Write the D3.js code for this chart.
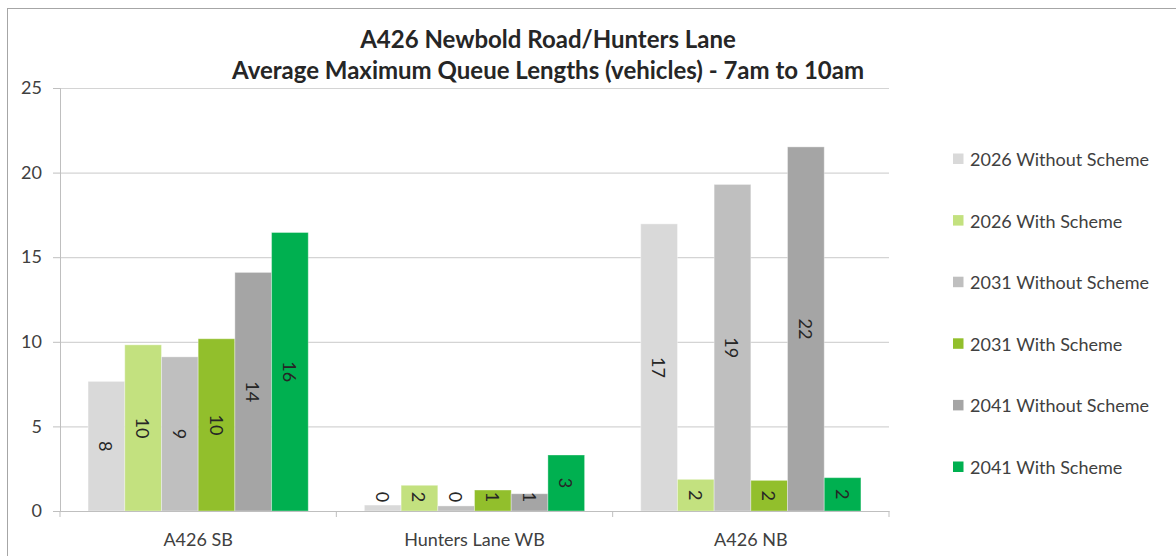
<!DOCTYPE html>
<html>
<head>
<meta charset="utf-8">
<script src="https://cdn.jsdelivr.net/npm/d3@7"></script>
<style>
  html, body { margin: 0; padding: 0; background: #ffffff; }
  svg { display: block; font-family: Lato, "Open Sans", sans-serif; }
</style>
</head>
<body>
<svg id="chart" width="1176" height="556"></svg>
<script>
// Approaches on the A426 Newbold Road / Hunters Lane junction
const categories = ["A426 SB", "Hunters Lane WB", "A426 NB"];

// Scenario names, in legend / bar order
const seriesNames = [
  "2026 Without Scheme",
  "2026 With Scheme",
  "2031 Without Scheme",
  "2031 With Scheme",
  "2041 Without Scheme",
  "2041 With Scheme"
];

// Average maximum queue length (vehicles), one value per approach
const s2026Without = [7.66, 0.35, 16.97];
const s2026With    = [9.82, 1.52, 1.87];
const s2031Without = [9.11, 0.30, 19.30];
const s2031With    = [10.18, 1.24, 1.81];
const s2041Without = [14.10, 1.02, 21.52];
const s2041With    = [16.46, 3.31, 1.97];

const seriesValues = [s2026Without, s2026With, s2031Without, s2031With, s2041Without, s2041With];
const seriesColors = ["#d9d9d9", "#c3e17f", "#bfbfbf", "#92bf2c", "#a5a5a5", "#00b050"];

const yTicks = [0, 5, 10, 15, 20, 25];
const titleLines = [
  "A426 Newbold Road/Hunters Lane",
  "Average Maximum Queue Lengths (vehicles) - 7am to 10am"
];

const svg = d3.select("#chart");

// Outer chart frame
svg.append("rect")
  .attr("x", 7.5).attr("y", 8.5)
  .attr("width", 1176).attr("height", 556)
  .attr("fill", "#ffffff")
  .attr("stroke", "#a6a6a6").attr("stroke-width", 1);

const plot = { left: 60, right: 889, top: 88, bottom: 511 };

const x0 = d3.scaleBand()
  .domain(categories)
  .range([plot.left, plot.right])
  .paddingInner(0).paddingOuter(0);

const x1 = d3.scaleBand()
  .domain(seriesNames)
  .range([0, x0.bandwidth()])
  .paddingInner(0).paddingOuter(0.765);

const y = d3.scaleLinear().domain([0, 25]).range([plot.bottom, plot.top]);

// Horizontal gridlines
svg.append("g")
  .attr("transform", `translate(${plot.left},0)`)
  .call(d3.axisLeft(y).tickValues(yTicks).tickSize(-(plot.right - plot.left)).tickFormat(""))
  .call(g => g.select(".domain").remove())
  .call(g => g.selectAll(".tick line").attr("stroke", "#d4d4d4").attr("stroke-width", 1.2));

// Y axis with tick labels
const yAxis = svg.append("g")
  .attr("transform", `translate(${plot.left},0)`)
  .call(d3.axisLeft(y).tickValues(yTicks).tickSize(7).tickPadding(11).tickFormat(d3.format("d")));
yAxis.select(".domain").attr("stroke", "#bfbfbf");
yAxis.selectAll(".tick line").attr("stroke", "#bfbfbf");
yAxis.selectAll(".tick text")
  .attr("fill", "#404040")
  .style("font-family", "Lato, 'Open Sans', sans-serif")
  .style("font-size", "18px");

// Bars
const rows = categories.map((c, i) => ({
  category: c,
  bars: seriesNames.map((s, j) => ({ series: s, value: seriesValues[j][i], color: seriesColors[j] }))
}));

const groups = svg.append("g").selectAll("g")
  .data(rows)
  .join("g")
  .attr("transform", d => `translate(${x0(d.category)},0)`);

groups.selectAll("rect")
  .data(d => d.bars)
  .join("rect")
  .attr("x", d => x1(d.series))
  .attr("y", d => y(d.value))
  .attr("width", x1.bandwidth())
  .attr("height", d => y(0) - y(d.value))
  .attr("fill", d => d.color)
  .attr("stroke", "rgba(255,255,255,0.35)")
  .attr("stroke-width", 1);

// Value labels, rotated and centred in each bar
const fmt = d3.format(".0f");
groups.selectAll("text.val")
  .data(d => d.bars)
  .join("text")
  .attr("class", "val")
  .attr("transform", d => {
    const cx = x1(d.series) + x1.bandwidth() / 2;
    const cy = Math.min((y(d.value) + y(0)) / 2, y(0) - 14);
    return `translate(${cx},${cy}) rotate(90)`;
  })
  .attr("text-anchor", "middle")
  .attr("dominant-baseline", "central")
  .attr("fill", "#262626")
  .style("font-size", "18px")
  .text(d => fmt(d.value));

// Category axis
const xAxis = svg.append("g")
  .attr("transform", `translate(0,${plot.bottom})`)
  .call(d3.axisBottom(x0).tickSize(0).tickPadding(22));
xAxis.select(".domain").attr("stroke", "#bfbfbf");
xAxis.selectAll(".tick text")
  .attr("fill", "#404040")
  .style("font-family", "Lato, 'Open Sans', sans-serif")
  .style("font-size", "18px");
// Category separators below the axis
svg.append("g").selectAll("line")
  .data(categories.map(c => x0(c)).concat([x0.range()[1]]))
  .join("line")
  .attr("x1", d => d).attr("x2", d => d)
  .attr("y1", plot.bottom).attr("y2", plot.bottom + 6)
  .attr("stroke", "#bfbfbf");

// Title
svg.append("g").selectAll("text")
  .data(titleLines)
  .join("text")
  .attr("x", 548)
  .attr("y", (d, i) => 48 + i * 31)
  .attr("text-anchor", "middle")
  .attr("fill", "#262626")
  .style("font-weight", "bold")
  .style("font-size", "24px")
  .text(d => d);

// Legend
const legend = svg.append("g").selectAll("g")
  .data(seriesNames)
  .join("g")
  .attr("transform", (d, i) => `translate(953,${159 + i * 61.6})`);
legend.append("rect")
  .attr("x", 0).attr("y", -5.5)
  .attr("width", 10.5).attr("height", 10.5)
  .attr("fill", (d, i) => seriesColors[i]);
legend.append("text")
  .attr("x", 17).attr("y", 0)
  .attr("dominant-baseline", "central")
  .attr("fill", "#404040")
  .style("font-size", "18px")
  .text(d => d);
</script>
</body>
</html>
